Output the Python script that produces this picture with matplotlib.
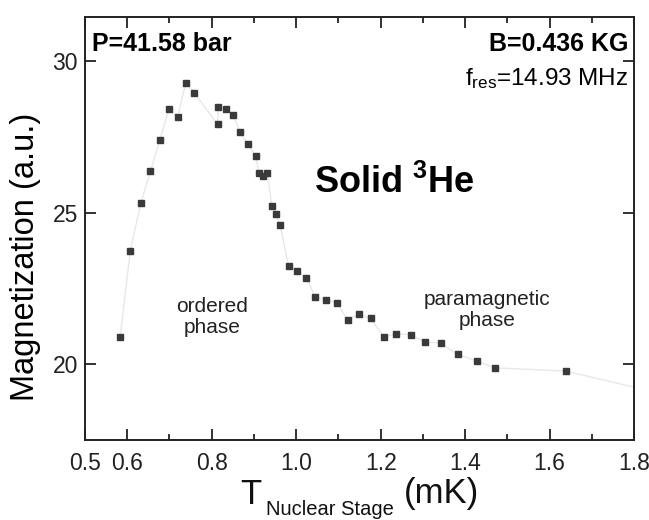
import matplotlib
matplotlib.use("Agg")
import matplotlib.pyplot as plt
from matplotlib.ticker import FixedLocator

plt.rcParams['font.family'] = ['Liberation Sans', 'DejaVu Sans']
plt.rcParams['mathtext.fontset'] = 'custom'
plt.rcParams['mathtext.rm'] = 'Liberation Sans'
plt.rcParams['mathtext.it'] = 'Liberation Sans'
plt.rcParams['mathtext.bf'] = 'Liberation Sans:bold'

# Data: temperature (mK) vs magnetization (a.u.)
temperature = [0.583, 0.607, 0.632, 0.655, 0.677, 0.699, 0.719, 0.739, 0.759,
               0.814, 0.816, 0.833, 0.850, 0.868, 0.886, 0.904, 0.912, 0.922,
               0.932, 0.942, 0.952, 0.962, 0.982, 1.002, 1.024, 1.045, 1.070,
               1.096, 1.122, 1.148, 1.176, 1.208, 1.237, 1.271, 1.305, 1.342,
               1.382, 1.427, 1.470, 1.639]
magnetization = [20.88, 23.73, 25.31, 26.37, 27.40, 28.42, 28.15, 29.29, 28.95,
                 27.91, 28.47, 28.42, 28.21, 27.65, 27.25, 26.87, 26.31, 26.20,
                 26.31, 25.21, 24.96, 24.59, 23.23, 23.08, 22.85, 22.21, 22.13,
                 22.02, 21.46, 21.64, 21.51, 20.90, 21.00, 20.97, 20.72, 20.70,
                 20.32, 20.11, 19.88, 19.77]
# connecting line continues past the right edge of the axes
line_t = temperature + [1.95]
line_m = magnetization + [18.75]

x_ticks = [0.5, 0.6, 0.8, 1.0, 1.2, 1.4, 1.6, 1.8]
x_ticklabels = ["0.5", "0.6", "0.8", "1.0", "1.2", "1.4", "1.6", "1.8"]
x_minor = [0.7, 0.9, 1.1, 1.3, 1.5, 1.7]
y_ticks = [20, 25, 30]

W, H = 649, 520
fig = plt.figure(figsize=(W / 100, H / 100), dpi=100)
ax = fig.add_axes([0.131, 0.154, 0.846, 0.813])

ax.plot(line_t, line_m, color='#e8e8e8', lw=1.0, zorder=1)
ax.plot(temperature, magnetization, linestyle='none', marker='s',
        markersize=4.6, color='#3a3a3a', zorder=2)

ax.set_xlim(0.5, 1.8)
ax.set_ylim(17.5, 31.45)

ax.xaxis.set_major_locator(FixedLocator(x_ticks))
ax.set_xticklabels(x_ticklabels)
ax.xaxis.set_minor_locator(FixedLocator(x_minor))
ax.yaxis.set_major_locator(FixedLocator(y_ticks))

ax.tick_params(which='both', direction='in', top=True, right=True,
               labelsize=16.5, width=1.3, colors='#222222')
ax.tick_params(which='major', length=8)
ax.tick_params(axis='x', which='major', pad=9)
ax.tick_params(axis='y', which='major', pad=5)
ax.tick_params(which='minor', length=4)
for s in ax.spines.values():
    s.set_linewidth(1.4)
    s.set_color('#222222')

ax.set_ylabel("Magnetization (a.u.)", fontsize=23.5)
ax.yaxis.set_label_coords(-0.08, 0.433)

# x-axis label built from pieces: T, subscript, unit
def px(x, y):
    return x / W, 1 - y / H

fig.text(*px(240, 504), "T", fontsize=25, va='baseline', ha='left', color='#111111')
fig.text(*px(266, 515), "Nuclear Stage", fontsize=14.5, va='baseline', ha='left', color='#111111')
fig.text(*px(404, 503), "(mK)", fontsize=25, va='baseline', ha='left', color='#111111')

ax.text(0.013, 0.965, "P=41.58 bar", transform=ax.transAxes, fontsize=18,
        fontweight='bold', ha='left', va='top')
ax.text(0.99, 0.965, "B=0.436 KG", transform=ax.transAxes, fontsize=18,
        fontweight='bold', ha='right', va='top')
ax.text(0.99, 0.885, r"f$_{\mathrm{res}}$=14.93 MHz", transform=ax.transAxes,
        fontsize=17.5, ha='right', va='top')
ax.text(0.563, 0.607, r"$\mathbf{Solid\ ^{3}He}$", transform=ax.transAxes,
        fontsize=26, ha='center', va='center')
ax.text(0.232, 0.29, "ordered\nphase", transform=ax.transAxes, fontsize=15,
        ha='center', va='center', color='#222222', linespacing=1.15)
ax.text(0.733, 0.307, "paramagnetic\nphase", transform=ax.transAxes, fontsize=15,
        ha='center', va='center', color='#222222', linespacing=1.15)

fig.savefig("out.png", dpi=100)
